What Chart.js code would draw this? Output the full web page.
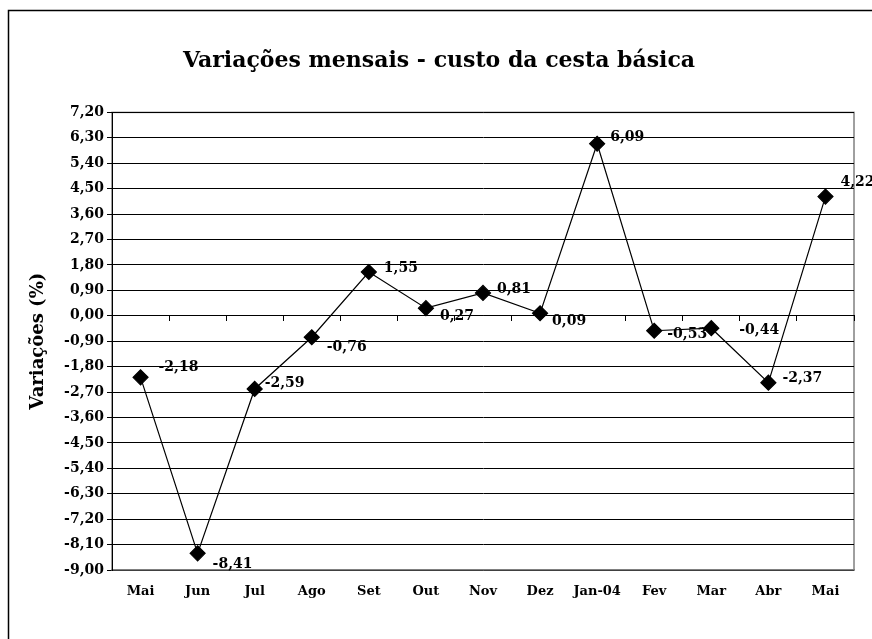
<!DOCTYPE html>
<html>
<head>
<meta charset="utf-8">
<script src="https://cdn.jsdelivr.net/npm/chart.js@4"></script>
<style>
    html, body { margin: 0; padding: 0; background: #fff; }
    #wrap { width: 872px; height: 639px; }
</style>
</head>
<body>
<div id="wrap"><canvas id="cestaChart" width="872" height="639"></canvas></div>
<script>
const months = ['Mai', 'Jun', 'Jul', 'Ago', 'Set', 'Out', 'Nov', 'Dez', 'Jan-04', 'Fev', 'Mar', 'Abr', 'Mai'];
const variations = [-2.18, -8.41, -2.59, -0.76, 1.55, 0.27, 0.81, 0.09, 6.09, -0.53, -0.44, -2.37, 4.22];
const yMin = -9.0;
const yMax = 7.2;
const yStep = 0.9;

// where each value label sits relative to its point (px)
const labelOffsets = [
    [18, -10], [15, 11], [10, -6], [15, 10], [15, -4], [14, 8], [14, -4],
    [12, 8], [13, -6], [13, 4], [28, 2], [14, -4], [15, -14]
];

const fmt = (v) => v.toFixed(2).replace('.', ',');
const serif = 'DejaVu Serif';

// outer frame + grey plot-area border
const framePlugin = {
    id: 'frame',
    beforeDraw(chart) {
        const ctx = chart.ctx;
        const a = chart.chartArea;
        ctx.save();
        ctx.strokeStyle = '#000';
        ctx.lineWidth = 1.5;
        ctx.beginPath();
        ctx.moveTo(8.5, 639);
        ctx.lineTo(8.5, 10.5);
        ctx.lineTo(872, 10.5);
        ctx.stroke();
        ctx.strokeStyle = '#808080';
        ctx.lineWidth = 1.5;
        ctx.strokeRect(a.left, a.top, a.right - a.left, a.bottom - a.top);
        ctx.restore();
    }
};

const valueLabels = {
    id: 'valueLabels',
    afterDatasetsDraw(chart) {
        const ctx = chart.ctx;
        const meta = chart.getDatasetMeta(0);
        ctx.save();
        ctx.font = 'bold 14px ' + serif;
        ctx.fillStyle = '#000';
        ctx.textAlign = 'left';
        ctx.textBaseline = 'middle';
        meta.data.forEach((pt, i) => {
            const off = labelOffsets[i];
            ctx.fillText(fmt(variations[i]), pt.x + off[0], pt.y + off[1]);
        });
        ctx.restore();
    }
};

const cestaChart = new Chart('cestaChart', {
    type: 'line',
    data: {
        labels: months,
        datasets: [
            {
                label: 'Variações',
                data: variations,
                xAxisID: 'x',
                yAxisID: 'y',
                borderColor: '#000',
                borderWidth: 1.2,
                backgroundColor: '#000',
                pointStyle: 'rectRot',
                pointRadius: 7.5,
                pointHoverRadius: 7.5,
                tension: 0
            }
        ]
    },
    plugins: [framePlugin, valueLabels],
    options: {
        responsive: false,
        animation: false,
        layout: {
            padding: { left: 24, right: 18, top: 0, bottom: 0 }
        },
        plugins: {
            legend: { display: false },
            tooltip: { enabled: false },
            title: {
                display: true,
                text: 'Variações mensais - custo da cesta básica',
                color: '#000',
                font: { family: serif, size: 22, weight: 'bold' },
                padding: { top: 48, bottom: 38 }
            }
        },
        scales: {
            x: {
                type: 'category',
                offset: true,
                grid: { display: true, drawOnChartArea: false, drawTicks: false },
                border: { display: true, color: '#808080', width: 1.5 },
                ticks: {
                    color: '#000',
                    padding: 14,
                    maxRotation: 0,
                    autoSkip: false,
                    font: { family: serif, size: 13, weight: 'bold' }
                },
                afterFit(scale) { scale.height = 69; }
            },
            x2: {
                type: 'category',
                position: { y: 0 },
                offset: true,
                ticks: { display: false },
                grid: { drawOnChartArea: false, offset: true, tickLength: 5, color: '#000' },
                border: { display: true, color: '#000', width: 1 }
            },
            y: {
                min: yMin,
                max: yMax,
                ticks: {
                    stepSize: yStep,
                    color: '#000',
                    padding: 3,
                    font: { family: serif, size: 14, weight: 'bold' },
                    callback: (v) => fmt(v)
                },
                grid: { color: '#000', lineWidth: 1, tickLength: 5 },
                border: { display: true, color: '#000', width: 1 },
                title: {
                    display: true,
                    text: 'Variações (%)',
                    color: '#000',
                    font: { family: serif, size: 18, weight: 'bold' },
                    padding: { top: 4, bottom: 4 }
                },
                afterFit(scale) { scale.width = 88; }
            }
        }
    }
});
</script>
</body>
</html>
